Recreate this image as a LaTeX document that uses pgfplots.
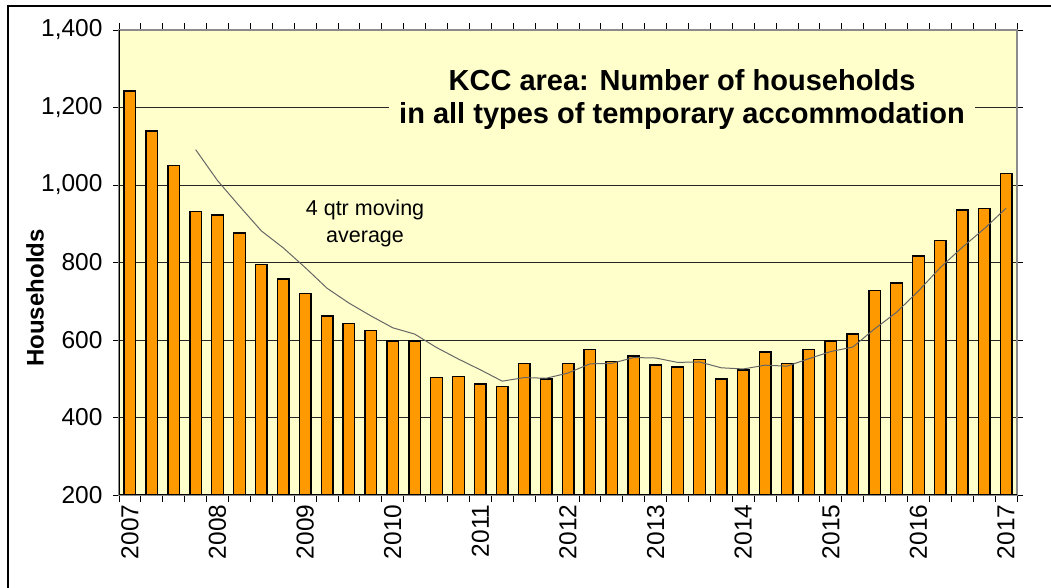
\documentclass[border=0pt]{standalone}
\usepackage{fontspec}
\setmainfont{Liberation Sans}
\usepackage{pgfplots}
\pgfplotsset{compat=1.18}
\definecolor{bg}{HTML}{FFFFCC}
\definecolor{barc}{HTML}{FF9900}
\begin{document}
\begin{tikzpicture}[x=1pt,y=1pt]
\useasboundingbox (0,0) rectangle (1051,588);
\draw[line width=1.5pt] (8,-2) -- (8,582) -- (1055,582);
\begin{axis}[
  at={(119pt,93pt)}, anchor=south west,
  scale only axis, width=898pt, height=465pt,
  xmin=-0.5, xmax=40.5, ymin=200, ymax=1400,
  axis background/.style={fill=bg},
  axis line style={draw=black!45, line width=1.8pt},
  ytick={200,400,...,1400},
  ymajorgrids, grid style={black!85, line width=0.9pt},
  xtick={0,4,...,40},
  xticklabels={2007,2008,2009,2010,2011,2012,2013,2014,2015,2016,2017},
  minor xtick={-0.5,0.5,...,40.5},
  tick align=outside,
  major tick length=6pt, minor tick length=7pt,
  every major x tick/.append style={draw=none},
  tick style={black, line width=0.9pt},
  /pgf/number format/assume math mode=true,
  /pgf/number format/1000 sep={,},
  tick label style={font=\fontsize{24.5}{24.5}\selectfont},
  y tick label style={xshift=-7pt},
  x tick label style={rotate=90, anchor=east},
  clip=true,
]
\addplot[ybar, bar width=0.53, fill=barc, draw=black, line width=1.4pt] coordinates {
(0,1243) (1,1139) (2,1051) (3,932) (4,923) (5,876) (6,795) (7,757) (8,720) (9,662)
(10,642) (11,625) (12,597) (13,597) (14,503) (15,506) (16,486) (17,480) (18,540) (19,499)
(20,540) (21,575) (22,545) (23,559) (24,535) (25,530) (26,549) (27,499) (28,523) (29,569)
(30,539) (31,576) (32,597) (33,615) (34,727) (35,747) (36,817) (37,857) (38,935) (39,939)
(40,1029)
};
\addplot[sharp plot, no marks, draw=black!60, line width=1pt] coordinates {
(3,1091.25) (4,1011.25) (5,945.5) (6,881.5) (7,837.75) (8,787) (9,733.5) (10,695.25)
(11,662.25) (12,631.5) (13,615.25) (14,580.5) (15,550.75) (16,523) (17,493.75) (18,503)
(19,501.25) (20,514.75) (21,538.5) (22,539.75) (23,554.75) (24,553.5) (25,542.25) (26,543.25)
(27,528.25) (28,525.25) (29,535) (30,532.5) (31,551.75) (32,570.25) (33,581.75) (34,628.75)
(35,671.5) (36,726.5) (37,787) (38,839) (39,887) (40,940)
};
\draw[black, line width=1.5pt] (rel axis cs:0,1) -- (rel axis cs:0,0) -- (rel axis cs:1,0);
\node[fill=bg, inner xsep=10pt, inner ysep=2pt, align=center,
  font=\bfseries\fontsize{29}{33}\selectfont] at (rel axis cs:0.627,0.851)
  {KCC area: Number of households\\in all types of temporary accommodation};
\node[align=center, font=\fontsize{21.5}{27}\selectfont] at (rel axis cs:0.274,0.583)
  {4 qtr moving\\average};
\end{axis}
\node[rotate=90, font=\bfseries\fontsize{24}{24}\selectfont] at (35,290) {Households};
\end{tikzpicture}
\end{document}
